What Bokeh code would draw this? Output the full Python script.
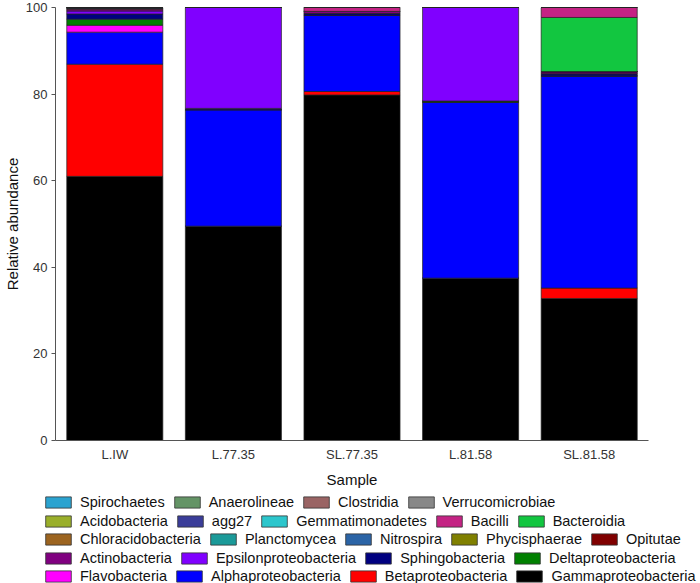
from bokeh.plotting import figure
from bokeh.models import Legend, LegendItem, FactorRange, ColumnDataSource
from bokeh.layouts import column
from bokeh.embed import file_html
from bokeh.resources import INLINE

samples = ["L.IW", "L.77.35", "SL.77.35", "L.81.58", "SL.81.58"]

# stacking order bottom -> top
taxa = ["Gammaproteobacteria", "Betaproteobacteria", "Alphaproteobacteria", "Flavobacteria",
        "Deltaproteobacteria", "Sphingobacteria", "Epsilonproteobacteria", "Actinobacteria",
        "Opitutae", "Phycisphaerae", "Nitrospira", "Planctomycea", "Chloracidobacteria",
        "Bacteroidia", "Bacilli", "Gemmatimonadetes", "agg27", "Acidobacteria",
        "Verrucomicrobiae", "Clostridia", "Anaerolineae", "Spirochaetes"]

colors = {
    "Gammaproteobacteria": "#000000", "Betaproteobacteria": "#FF0000",
    "Alphaproteobacteria": "#0000FF", "Flavobacteria": "#FF00FF",
    "Deltaproteobacteria": "#008000", "Sphingobacteria": "#000080",
    "Epsilonproteobacteria": "#8000FF", "Actinobacteria": "#800080",
    "Opitutae": "#800000", "Phycisphaerae": "#808000", "Nitrospira": "#2B64A6",
    "Planctomycea": "#1B9A99", "Chloracidobacteria": "#9C6420", "Bacteroidia": "#12C640",
    "Bacilli": "#C42384", "Gemmatimonadetes": "#2CC6CC", "agg27": "#3A3D99",
    "Acidobacteria": "#9AAF2A", "Verrucomicrobiae": "#888888", "Clostridia": "#9A6464",
    "Anaerolineae": "#649466", "Spirochaetes": "#2BA3D0",
}

Gammaproteobacteria = [61.0, 49.5, 79.8, 37.5, 32.8]
Betaproteobacteria = [25.9, 0.0, 0.8, 0.0, 2.4]
Alphaproteobacteria = [7.4, 26.9, 17.6, 40.6, 49.0]
Flavobacteria = [1.6, 0.0, 0.0, 0.0, 0.0]
Deltaproteobacteria = [1.4, 0.0, 0.0, 0.3, 0.0]
Sphingobacteria = [1.2, 0.3, 0.4, 0.0, 0.5]
Epsilonproteobacteria = [0.7, 23.3, 0.0, 21.6, 0.0]
Actinobacteria = [0.4, 0.0, 0.5, 0.0, 0.5]
Opitutae = [0.2, 0.0, 0.0, 0.0, 0.0]
Phycisphaerae = [0.0, 0.0, 0.0, 0.0, 0.0]
Nitrospira = [0.2, 0.0, 0.0, 0.0, 0.0]
Planctomycea = [0.0, 0.0, 0.0, 0.0, 0.0]
Chloracidobacteria = [0.0, 0.0, 0.0, 0.0, 0.0]
Bacteroidia = [0.0, 0.0, 0.0, 0.0, 12.5]
Bacilli = [0.0, 0.0, 0.9, 0.0, 2.3]
Gemmatimonadetes = [0.0, 0.0, 0.0, 0.0, 0.0]
agg27 = [0.0, 0.0, 0.0, 0.0, 0.0]
Acidobacteria = [0.0, 0.0, 0.0, 0.0, 0.0]
Verrucomicrobiae = [0.0, 0.0, 0.0, 0.0, 0.0]
Clostridia = [0.0, 0.0, 0.0, 0.0, 0.0]
Anaerolineae = [0.0, 0.0, 0.0, 0.0, 0.0]
Spirochaetes = [0.0, 0.0, 0.0, 0.0, 0.0]

values = {
    "Gammaproteobacteria": Gammaproteobacteria, "Betaproteobacteria": Betaproteobacteria,
    "Alphaproteobacteria": Alphaproteobacteria, "Flavobacteria": Flavobacteria,
    "Deltaproteobacteria": Deltaproteobacteria, "Sphingobacteria": Sphingobacteria,
    "Epsilonproteobacteria": Epsilonproteobacteria, "Actinobacteria": Actinobacteria,
    "Opitutae": Opitutae, "Phycisphaerae": Phycisphaerae, "Nitrospira": Nitrospira,
    "Planctomycea": Planctomycea, "Chloracidobacteria": Chloracidobacteria,
    "Bacteroidia": Bacteroidia, "Bacilli": Bacilli, "Gemmatimonadetes": Gemmatimonadetes,
    "agg27": agg27, "Acidobacteria": Acidobacteria, "Verrucomicrobiae": Verrucomicrobiae,
    "Clostridia": Clostridia, "Anaerolineae": Anaerolineae, "Spirochaetes": Spirochaetes,
}

legend_rows = [
    ["Spirochaetes", "Anaerolineae", "Clostridia", "Verrucomicrobiae"],
    ["Acidobacteria", "agg27", "Gemmatimonadetes", "Bacilli", "Bacteroidia"],
    ["Chloracidobacteria", "Planctomycea", "Nitrospira", "Phycisphaerae", "Opitutae"],
    ["Actinobacteria", "Epsilonproteobacteria", "Sphingobacteria", "Deltaproteobacteria"],
    ["Flavobacteria", "Alphaproteobacteria", "Betaproteobacteria", "Gammaproteobacteria"],
]

data = {"sample": samples}
data.update(values)
src = ColumnDataSource(data)

FONT = "Liberation Sans"

p = figure(x_range=FactorRange(*samples), y_range=(0, 100), width=700, height=490,
           output_backend="svg", toolbar_location=None,
           min_border_left=55, min_border_right=52, min_border_top=7, min_border_bottom=47)

p.vbar_stack(taxa, x="sample", width=0.81, source=src,
             fill_color=[colors[t] for t in taxa],
             line_color="#222222", line_width=0.7)

p.outline_line_color = None
p.xgrid.grid_line_color = None
p.ygrid.grid_line_color = None
p.x_range.range_padding = 0.0

p.yaxis.ticker = [0, 20, 40, 60, 80, 100]
p.yaxis.minor_tick_line_color = None
p.yaxis.major_tick_out = 4
p.yaxis.major_tick_in = 0
p.yaxis.axis_line_color = "#555555"
p.yaxis.major_tick_line_color = "#555555"
p.yaxis.major_label_text_font = FONT
p.yaxis.major_label_text_font_size = "13px"
p.yaxis.major_label_text_color = "#333333"
p.yaxis.major_label_standoff = 4
p.yaxis.axis_label = "Relative abundance"
p.yaxis.axis_label_text_font = FONT
p.yaxis.axis_label_text_font_size = "15px"
p.yaxis.axis_label_text_font_style = "normal"
p.yaxis.axis_label_text_color = "#111111"
p.yaxis.axis_label_standoff = 2

p.xaxis.axis_line_color = "#555555"
p.xaxis.major_tick_line_color = None
p.xaxis.minor_tick_line_color = None
p.xaxis.major_tick_out = 0
p.xaxis.major_tick_in = 0
p.xaxis.major_label_text_font = FONT
p.xaxis.major_label_text_font_size = "13px"
p.xaxis.major_label_text_color = "#333333"
p.xaxis.major_label_standoff = 6
p.xaxis.axis_label = "Sample"
p.xaxis.axis_label_text_font = FONT
p.xaxis.axis_label_text_font_size = "15px"
p.xaxis.axis_label_text_font_style = "normal"
p.xaxis.axis_label_text_color = "#111111"
p.xaxis.axis_label_standoff = 6

# legend panel below the chart
leg_h = 93
pl = figure(width=700, height=leg_h, x_range=FactorRange(*samples), y_range=(0, 100),
            output_backend="svg", toolbar_location=None,
            x_axis_location=None, y_axis_location=None,
            min_border_left=0, min_border_right=0, min_border_top=0, min_border_bottom=0)
if "frame_align" in pl.properties():
    pl.frame_align = False
    p.frame_align = False
pl.outline_line_color = None
pl.xgrid.grid_line_color = None
pl.ygrid.grid_line_color = None

swatch = {}
for t in taxa:
    swatch[t] = pl.vbar(x="sample", top=t, width=0.5, source=src, fill_color=colors[t],
                        line_color="#333333", line_width=0.8, visible=False)

row_centers = [11, 30, 48, 67, 85]
for row, c in zip(legend_rows, row_centers):
    items = [LegendItem(label=name, renderers=[swatch[name]]) for name in row]
    lg = Legend(items=items, orientation="horizontal", location=(42, leg_h - (c + 8.5)),
                glyph_width=32, glyph_height=14, label_standoff=6, spacing=6,
                padding=0, margin=0, label_height=15,
                label_text_font=FONT, label_text_font_size="14.5px",
                label_text_color="#111111", border_line_color=None,
                background_fill_alpha=0)
    pl.add_layout(lg, "center")

layout = column(p, pl, spacing=0)
open("out.html", "w").write(file_html(layout, INLINE))
